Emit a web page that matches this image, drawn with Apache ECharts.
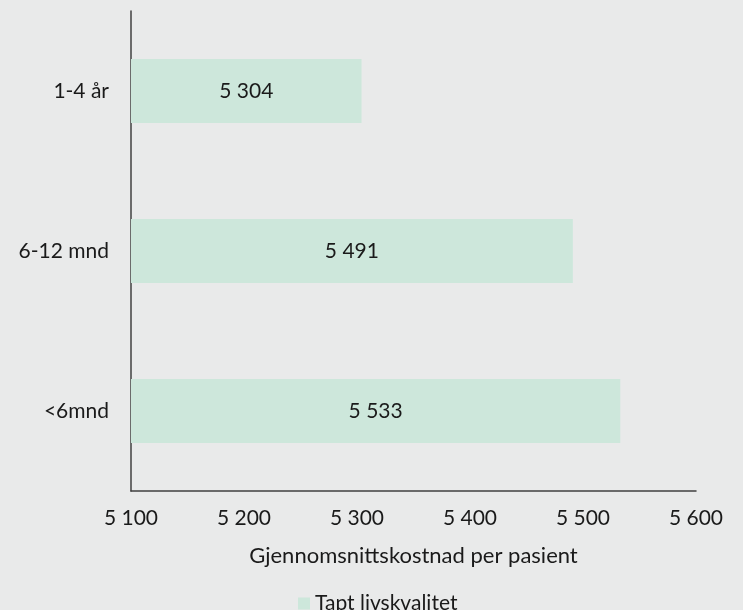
<!DOCTYPE html>
<html>
<head>
<meta charset="utf-8">
<script src="https://cdn.jsdelivr.net/npm/echarts@6/dist/echarts.min.js"></script>
<style>
  html, body { margin: 0; padding: 0; background: #e9eaea; }
  #chart { width: 743px; height: 610px; }
</style>
</head>
<body>
<div id="chart"></div>
<script>
// data
var categories = ['<6mnd', '6-12 mnd', '1-4 år'];
var values = [5533, 5491, 5304];
var seriesName = 'Tapt livskvalitet';
var axisTitle = 'Gjennomsnittskostnad per pasient';

function fmt(v) {
  return String(Math.round(v)).replace(/\B(?=(\d{3})+(?!\d))/g, ' ');
}

var font = 'Lato, "Noto Sans", sans-serif';
var chart = echarts.init(document.getElementById('chart'));
chart.setOption({
  backgroundColor: '#e9eaea',
  textStyle: { fontFamily: font, color: '#1a1a1a' },
  grid: { left: 131, right: 47, top: 11, bottom: 119 },
  legend: {
    left: 293,
    top: 588,
    itemWidth: 12,
    itemHeight: 12,
    itemGap: 6,
    icon: 'rect',
    textStyle: { fontFamily: font, fontSize: 21, color: '#1a1a1a' },
    data: [seriesName]
  },
  xAxis: {
    type: 'value',
    min: 5100,
    max: 5600,
    interval: 100,
    name: axisTitle,
    nameLocation: 'middle',
    nameGap: 54,
    nameTextStyle: { fontFamily: font, fontSize: 22, color: '#1a1a1a' },
    axisLine: { show: true, lineStyle: { color: '#404040', width: 1.5 } },
    axisTick: { show: false },
    splitLine: { show: false },
    axisLabel: {
      margin: 17,
      fontSize: 21,
      color: '#1a1a1a',
      formatter: fmt
    }
  },
  yAxis: {
    type: 'category',
    data: categories,
    axisLine: { show: true, lineStyle: { color: '#404040', width: 1.5 } },
    axisTick: { show: false },
    axisLabel: { margin: 22, fontSize: 21, color: '#1a1a1a' }
  },
  series: [{
    name: seriesName,
    type: 'bar',
    data: values,
    barCategoryGap: '60%',
    itemStyle: { color: '#cde7db' },
    label: {
      show: true,
      position: 'inside',
      fontSize: 21,
      color: '#1a1a1a',
      formatter: function (p) { return fmt(p.value); }
    }
  }]
});
</script>
</body>
</html>
